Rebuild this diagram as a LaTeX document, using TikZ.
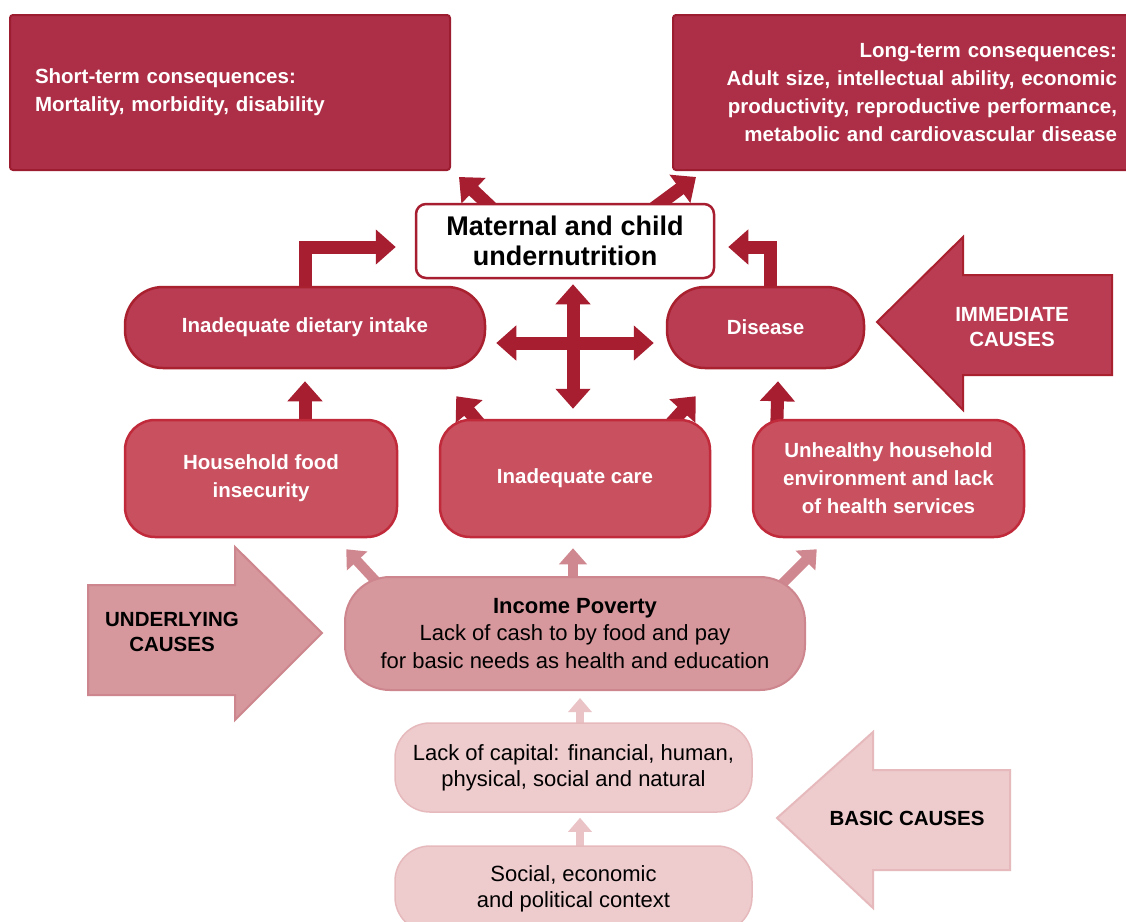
\documentclass[tikz,border=0pt]{standalone}
\usepackage{fontspec}
\setmainfont{Liberation Sans}
\usetikzlibrary{arrows.meta,calc}
\pgfdeclarelayer{bg}
\pgfsetlayers{bg,main}
\definecolor{cCons}{HTML}{AD2F47}
\definecolor{cConsB}{HTML}{9C1C30}
\definecolor{cImm}{HTML}{B93C53}
\definecolor{cImmB}{HTML}{A9202F}
\definecolor{cArrD}{HTML}{A61E30}
\definecolor{cUnd}{HTML}{C8505F}
\definecolor{cUndB}{HTML}{C12A3A}
\definecolor{cInc}{HTML}{D6989D}
\definecolor{cIncB}{HTML}{CD868D}
\definecolor{cArrM}{HTML}{D08890}
\definecolor{cBas}{HTML}{EECBCD}
\definecolor{cBasB}{HTML}{E6BABD}
\definecolor{cArrL}{HTML}{EAC3C6}
\tikzset{
  body/.style={font=\fontsize{22}{28}\selectfont, align=center},
  wbody/.style={font=\bfseries\fontsize{20.5}{28}\selectfont, align=center, text=white},
  cons/.style={wbody, draw=cConsB, fill=cCons, line width=2pt, rounded corners=3pt},
  matbox/.style={draw=cArrD, fill=white, line width=2.5pt, rounded corners=10pt, minimum width=298pt, minimum height=74pt, font=\bfseries\fontsize{27}{30}\selectfont, align=center, text=black},
  imm/.style={wbody, draw=cImmB, fill=cImm, line width=2.5pt, rounded corners=38pt, minimum height=81pt},
  und/.style={wbody, draw=cUndB, fill=cUnd, line width=2.5pt, rounded corners=30pt, minimum width=271pt, minimum height=117pt},
  inc/.style={body, font=\fontsize{22}{27.5}\selectfont, draw=cIncB, fill=cInc, line width=2pt, rounded corners=45pt, text=black},
  bas/.style={body, font=\fontsize{22}{26}\selectfont, draw=cBasB, fill=cBas, line width=1.5pt, rounded corners=35pt, text=black},
  bigarrow/.style={line width=2pt, line join=miter},
  causelab/.style={font=\bfseries\fontsize{20.5}{25}\selectfont, align=center},
  darr/.style={draw=cArrD, line width=13pt, line join=miter, -{Triangle[length=20pt,width=34pt]}},
  darrtwo/.style={draw=cArrD, line width=13pt, {Triangle[length=20pt,width=34pt]}-{Triangle[length=20pt,width=34pt]}},
  marr/.style={draw=cArrM, line width=10pt, -{Triangle[length=16pt,width=27pt]}},
  larr/.style={draw=cArrL, line width=8pt, -{Triangle[length=14pt,width=23pt]}},
}
\begin{document}
\begin{tikzpicture}[x=1pt,y=-1pt]
\useasboundingbox (0,0) rectangle (1126,921);
\begin{pgfonlayer}{bg}
\fill[white] (0,0) rectangle (1126,921);
\end{pgfonlayer}

% consequences
\node[cons, minimum width=440pt, minimum height=155pt, text width=390pt, align=left] (short) at (230,92.5)
  {Short-term consequences:\\Mortality, morbidity, disability};
\node[cons, minimum width=462pt, minimum height=155pt, text width=426pt, align=right] (long) at (904,92.5)
  {Long-term consequences:\\Adult size, intellectual ability, economic\\productivity, reproductive performance,\\metabolic and cardiovascular disease};

% outcome
\node[matbox] (mat) at (565,241) {Maternal and child\\undernutrition};

% immediate causes
\node[imm, minimum width=360pt] (diet) at (305,327.5) {Inadequate dietary intake};
\node[imm, minimum width=197pt] (dis) at (765.5,327.5) {Disease};

% underlying causes
\node[und, minimum width=272pt] (house) at (261,478.5) {Household food\\insecurity};
\node[und, minimum width=270pt] (care) at (575,478.5) {Inadequate care};
\node[und, minimum width=271pt] (env) at (888.5,478.5) {Unhealthy household\\environment and lack\\of health services};

\node[inc, minimum width=460pt, minimum height=113pt] (inc) at (575,633.5)
  {\textbf{Income Poverty}\\Lack of cash to by food and pay\\for basic needs as health and education};

% basic causes
\node[bas, minimum width=357pt, minimum height=89pt] (cap) at (573.5,767.5)
  {Lack of capital: financial, human,\\physical, social and natural};
\node[bas, minimum width=357pt, minimum height=86pt] (soc) at (573.5,889)
  {Social, economic\\and political context};

% level arrows
\draw[bigarrow, draw=cImmB, fill=cImm] (877,322) -- (963,237) -- (963,275) -- (1112,275) -- (1112,375) -- (963,375) -- (963,410) -- cycle;
\node[causelab, text=white] (immlab) at (1012,327) {IMMEDIATE\\CAUSES};
\draw[bigarrow, draw=cIncB, fill=cInc] (88,585) -- (235,585) -- (235,547) -- (322,633) -- (235,720) -- (235,695) -- (88,695) -- cycle;
\node[causelab, text=black] (undlab) at (172,632) {UNDERLYING\\CAUSES};
\draw[bigarrow, draw=cBasB, fill=cBas] (777,818) -- (873,732) -- (873,770) -- (1010,770) -- (1010,870) -- (873,870) -- (873,908) -- cycle;
\node[causelab, text=black] (baslab) at (907,818) {BASIC CAUSES};

\coordinate (cx) at (573,343);
\begin{pgfonlayer}{bg}
\draw[darr] ($(mat.north west)+(80,8)$) -- ($(short.south east)+(8,6)$);
\draw[darr] ($(mat.north east)+(-65,8)$) -- ($(long.south west)+(24,6)$);
\draw[darr] ($(diet.north)+(0,8)$) |- ($(mat.west)+(-19,6)$);
\draw[darr] ($(dis.north)+(5,8)$) |- ($(mat.east)+(13,6)$);
\draw[darrtwo, shorten <=5pt, shorten >=10pt] (cx |- mat.south) -- (cx |- care.north);
\draw[darrtwo, shorten <=10pt, shorten >=12pt] (cx -| diet.east) -- (cx -| dis.west);
\draw[darr] ($(diet.south |- house.north)+(0,8)$) -- ($(diet.south)+(0,12)$);
\draw[darr] ($(care.north west)+(45,10)$) -- ($(diet.south east)+(-30,27)$);
\draw[darr] ($(care.north east)+(-45,10)$) -- ($(dis.south west)+(30,27)$);
\draw[darr] ($(env.north west)+(25,8)$) -- ($(dis.south)+(12.5,12)$);
\draw[marr] ($(inc.north west)+(40,14)$) -- ($(house.south east)+(-52,11)$);
\draw[marr] ($(inc.north)+(-2,8)$) -- ($(care.south)+(-2,10)$);
\draw[marr] ($(inc.north east)+(-30,14)$) -- ($(env.south west)+(65,11)$);
\draw[larr] ($(cap.north)+(6.5,6)$) -- ($(inc.south)+(5,7)$);
\draw[larr] ($(soc.north)+(6.5,6)$) -- ($(cap.south)+(6.5,5)$);
\end{pgfonlayer}
\end{tikzpicture}
\end{document}
